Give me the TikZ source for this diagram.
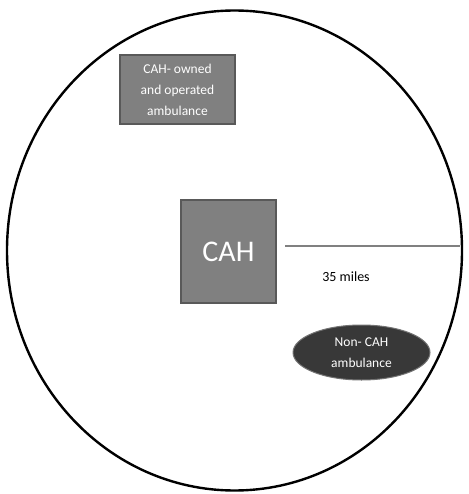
\documentclass[tikz,border=0pt]{standalone}
\usepackage{fontspec}
\setmainfont{Carlito}
\usetikzlibrary{shapes.geometric}
\begin{document}
\begin{tikzpicture}[x=1pt,y=-1pt,
  graybox/.style={draw=black!65,line width=1.5pt,fill=black!50,text=white,inner sep=0pt},
  darkoval/.style={ellipse,draw=black!55,line width=1pt,fill=black!78,text=white,inner sep=0pt}]
\useasboundingbox (0,0) rectangle (468,494);
\draw[line width=2.4pt] (234.5,250.5) ellipse [x radius=227.5, y radius=240];
\node[graybox,minimum width=115,minimum height=69,align=center,font=\fontsize{13.5}{21}\selectfont] (own) at (177.5,89.5) {CAH- owned\\and operated\\ambulance};
\node[graybox,minimum width=95,minimum height=103,font=\fontsize{30}{32}\selectfont] (cah) at (228.5,251.5) {CAH};
\coordinate (lstart) at (285,246);
\coordinate (lend) at (460,246);
\draw[black!50,line width=1.3pt] (lstart) -- (lend);
\node[font=\fontsize{14}{16}\selectfont] (miles) at (346,277) {35 miles};
\node[darkoval,minimum width=137,minimum height=55,align=center,font=\fontsize{13.5}{21}\selectfont] (non) at (361.5,352.5) {Non- CAH\\ambulance};
\end{tikzpicture}
\end{document}
